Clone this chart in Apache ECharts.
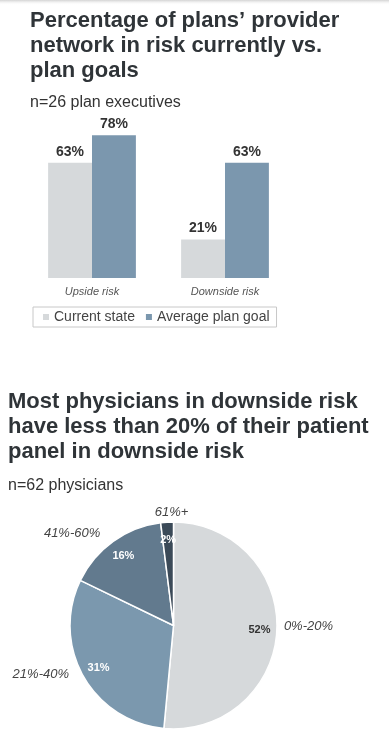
<!DOCTYPE html>
<html>
<head>
<meta charset="utf-8">
<script src="https://cdn.jsdelivr.net/npm/echarts@6/dist/echarts.min.js"></script>
<style>
html,body{margin:0;padding:0;background:#fff;}
#chart{width:389px;height:742px;}
</style>
</head>
<body>
<div id="chart"></div>
<script>
// Bar chart data
const barCategories = ['Upside risk', 'Downside risk'];
const barSeriesNames = ['Current state', 'Average plan goal'];
const currentState = [63, 21];
const averagePlanGoal = [78, 63];

// Pie chart data
const pieCategories = ['0%-20%', '21%-40%', '41%-60%', '61%+'];
const pieValues = [52, 31, 16, 2];

const title1 = 'Percentage of plans\u2019 provider\nnetwork in risk currently vs.\nplan goals';
const sub1 = 'n=26 plan executives';
const title2 = 'Most physicians in downside risk\nhave less than 20% of their patient\npanel in downside risk';
const sub2 = 'n=62 physicians';

const FONT = '"Liberation Sans", Arial, Helvetica, sans-serif';
const pieColors = ['#d6d9db', '#7b98ae', '#627a8e', '#3b4a58'];
const innerLabelColors = ['#333333', '#ffffff', '#ffffff', '#ffffff'];
const PIE_CX = 173.5, PIE_CY = 625.5;

const chart = echarts.init(document.getElementById('chart'), null, {renderer: 'canvas'});

const titleStyle = {fontFamily: FONT, fontSize: 22, fontWeight: 'bold', color: '#2f3438', lineHeight: 25};
const subStyle = {fontFamily: FONT, fontSize: 16, fontWeight: 'normal', color: '#333', lineHeight: 18};

const pieData = pieCategories.map((n, i) => ({name: n, value: pieValues[i], itemStyle: {color: pieColors[i]}}));
const pieInnerData = pieCategories.map((n, i) => ({name: n, value: pieValues[i], label: {color: innerLabelColors[i]}}));

chart.setOption({
  backgroundColor: '#ffffff',
  animation: false,
  graphic: [{
    type: 'rect', left: 0, top: 0, z: 100,
    shape: {width: 389, height: 5},
    style: {fill: new echarts.graphic.LinearGradient(0, 0, 0, 1, [
      {offset: 0, color: 'rgba(200,200,200,0.8)'},
      {offset: 1, color: 'rgba(255,255,255,0)'}
    ])}
  }],
  title: [
    {text: title1, left: 30, top: 8, padding: 0, textStyle: titleStyle},
    {text: sub1, left: 30, top: 94, padding: 0, textStyle: subStyle},
    {text: title2, left: 8, top: 389, padding: 0, textStyle: titleStyle},
    {text: sub2, left: 8, top: 477, padding: 0, textStyle: subStyle}
  ],
  legend: {
    data: barSeriesNames,
    left: 33, top: 307,
    orient: 'horizontal',
    itemWidth: 6, itemHeight: 6, itemGap: 11,
    icon: 'rect',
    borderColor: '#c8c8c8', borderWidth: 1, borderRadius: 0,
    padding: [3, 7, 3, 10],
    textStyle: {fontFamily: FONT, fontSize: 14, color: '#444'}
  },
  grid: {left: 25.5, right: 97.5, top: 95, bottom: 464, containLabel: false},
  xAxis: {
    type: 'category', data: barCategories,
    axisLine: {show: false}, axisTick: {show: false},
    axisLabel: {fontFamily: FONT, fontSize: 11, fontStyle: 'italic', color: '#555', margin: 8}
  },
  yAxis: {type: 'value', min: 0, max: 100, show: false, splitLine: {show: false}},
  series: [
    {
      name: barSeriesNames[0], type: 'bar', data: currentState,
      barGap: '0%', barCategoryGap: '34%',
      itemStyle: {color: '#d6d9db'},
      label: {show: true, position: 'top', distance: 4, formatter: '{c}%', fontFamily: FONT, fontSize: 14, fontWeight: 'bold', color: '#333'}
    },
    {
      name: barSeriesNames[1], type: 'bar', data: averagePlanGoal,
      barGap: '0%', barCategoryGap: '34%',
      itemStyle: {color: '#7b97ae'},
      label: {show: true, position: 'top', distance: 4, formatter: '{c}%', fontFamily: FONT, fontSize: 14, fontWeight: 'bold', color: '#333'}
    },
    {
      type: 'pie', name: 'pie',
      center: [PIE_CX, PIE_CY], radius: [0, 103.5],
      startAngle: 90, clockwise: true,
      avoidLabelOverlap: false,
      data: pieData,
      itemStyle: {borderColor: '#ffffff', borderWidth: 1.5},
      label: {show: true, position: 'outside', formatter: '{b}', fontFamily: FONT, fontSize: 13, fontStyle: 'italic', color: '#444'},
      labelLine: {show: false, length: 5, length2: 3},
      labelLayout: function (p) {
        const r = p.labelRect;
        const midX = r.x + r.width / 2;
        if (Math.abs(midX - PIE_CX) < 40) {
          return {x: PIE_CX - 2, align: 'center', dy: -5};
        }
        if (midX > PIE_CX) {
          return {dx: -6, dy: -4};
        }
        return {dx: -2, dy: -4};
      },
      emphasis: {disabled: true}
    },
    {
      type: 'pie', name: 'pieInner', silent: true,
      center: [PIE_CX, PIE_CY], radius: [58, 108],
      startAngle: 90, clockwise: true,
      avoidLabelOverlap: false,
      data: pieInnerData,
      itemStyle: {color: 'rgba(0,0,0,0)', borderWidth: 0},
      label: {show: true, position: 'inside', formatter: '{c}%', fontFamily: FONT, fontSize: 11, fontWeight: 'bold'},
      labelLine: {show: false},
      emphasis: {disabled: true}
    }
  ]
});
</script>
</body>
</html>
